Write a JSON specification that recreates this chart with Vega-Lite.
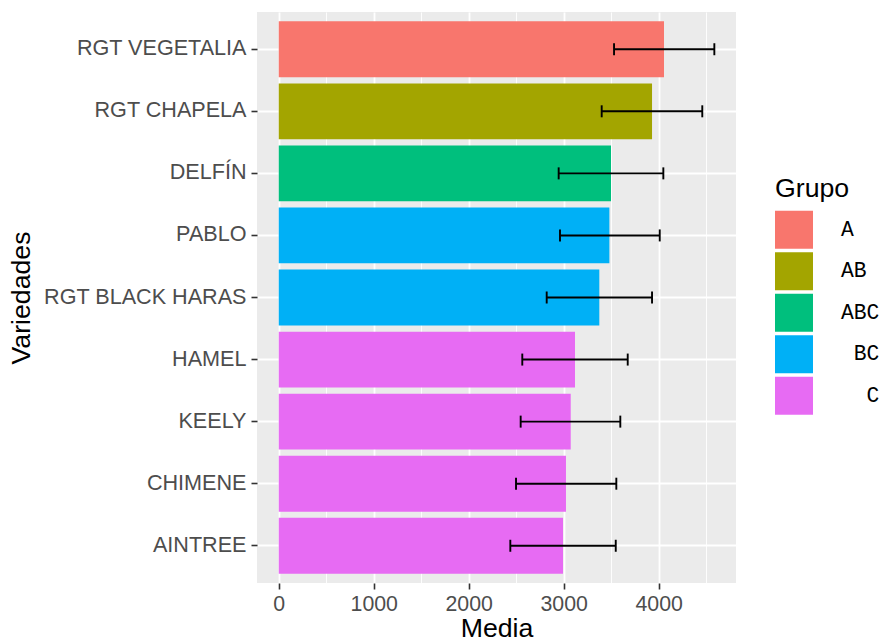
{
  "$schema": "https://vega.github.io/schema/vega-lite/v6.json",
  "autosize": {"type": "none"},
  "padding": {"left": 257, "top": 12, "right": 147, "bottom": 61},
  "width": 479,
  "height": 571,
  "background": "white",
  "config": {
    "view": {"fill": "#EBEBEB", "stroke": null},
    "font": "Liberation Sans"
  },
  "data": {
    "values": [
      {"Variedad": "RGT VEGETALIA", "Grupo": "A", "Media": 4056, "Inf": 3530, "Sup": 4586},
      {"Variedad": "RGT CHAPELA", "Grupo": "AB", "Media": 3930, "Inf": 3400, "Sup": 4459},
      {"Variedad": "DELFÍN", "Grupo": "ABC", "Media": 3498, "Inf": 2947, "Sup": 4049},
      {"Variedad": "PABLO", "Grupo": "BC", "Media": 3481, "Inf": 2961, "Sup": 4011},
      {"Variedad": "RGT BLACK HARAS", "Grupo": "BC", "Media": 3375, "Inf": 2821, "Sup": 3930},
      {"Variedad": "HAMEL", "Grupo": "C", "Media": 3119, "Inf": 2564, "Sup": 3674},
      {"Variedad": "KEELY", "Grupo": "C", "Media": 3074, "Inf": 2547, "Sup": 3596},
      {"Variedad": "CHIMENE", "Grupo": "C", "Media": 3024, "Inf": 2498, "Sup": 3554},
      {"Variedad": "AINTREE", "Grupo": "C", "Media": 2993, "Inf": 2438, "Sup": 3548}
    ]
  },
  "encoding": {
    "y": {
      "field": "Variedad",
      "type": "nominal",
      "sort": null,
      "scale": {"paddingInner": 0.1, "paddingOuter": 0.15},
      "axis": {
        "title": "Variedades",
        "titleFontSize": 26.7,
        "titleFontWeight": "normal",
        "titleColor": "black",
        "titlePadding": 22,
        "labelFontSize": 21.6,
        "labelColor": "#4D4D4D",
        "labelPadding": 5,
        "labelLimit": 400,
        "tickSize": 6,
        "tickColor": "#333333",
        "tickWidth": 1.6,
        "domain": false,
        "grid": true,
        "gridColor": "white",
        "gridWidth": 1.8,
        "bandPosition": 0.5
      }
    }
  },
  "layer": [
    {
      "mark": {"type": "bar"},
      "encoding": {
        "x": {
          "field": "Media",
          "type": "quantitative",
          "scale": {"domain": [-229, 4814], "nice": false, "zero": false},
          "axis": {
            "title": "Media",
            "titleFontSize": 26.7,
            "titleFontWeight": "normal",
            "titleColor": "black",
            "titlePadding": 1,
            "values": [0, 500, 1000, 1500, 2000, 2500, 3000, 3500, 4000, 4500],
            "format": "d",
            "labelExpr": "datum.value % 1000 === 0 ? datum.label : ''",
            "labelFontSize": 21.3,
            "labelColor": "#4D4D4D",
            "labelPadding": 4,
            "labelFlush": false,
            "labelOverlap": false,
            "tickSize": 6,
            "tickColor": "#333333",
            "tickWidth": 1.6,
            "tickOpacity": {"condition": {"test": "datum.value % 1000 === 0", "value": 1}, "value": 0},
            "domain": false,
            "grid": true,
            "gridColor": "white",
            "gridWidth": {"condition": {"test": "datum.value % 1000 === 0", "value": 1.8}, "value": 0.9}
          }
        },
        "color": {
          "field": "Grupo",
          "type": "nominal",
          "scale": {
            "domain": ["A", "AB", "ABC", "BC", "C"],
            "range": ["#F8766D", "#A3A500", "#00BF7D", "#00B0F6", "#E76BF3"]
          },
          "legend": {
            "title": "Grupo",
            "orient": "none",
            "legendX": 518,
            "legendY": 164,
            "titleFontSize": 26.7,
            "titleFontWeight": "normal",
            "titleColor": "black",
            "titlePadding": 8,
            "symbolType": "square",
            "symbolSize": 1444,
            "symbolStrokeWidth": 0,
            "symbolOpacity": 1,
            "labelFont": "Liberation Mono",
            "labelFontSize": 21.3,
            "labelColor": "black",
            "labelOffset": 28,
            "rowPadding": 3.5,
            "encode": {
              "labels": {
                "update": {
                  "dx": {"signal": "datum.value === 'BC' ? 12.8 : datum.value === 'C' ? 25.6 : 0"}
                }
              }
            }
          }
        }
      }
    },
    {
      "mark": {"type": "rule", "color": "black", "strokeWidth": 1.9},
      "encoding": {
        "x": {"field": "Inf", "type": "quantitative"},
        "x2": {"field": "Sup"}
      }
    },
    {
      "mark": {"type": "tick", "color": "black", "orient": "vertical", "size": 12, "thickness": 1.9, "opacity": 1},
      "encoding": {
        "x": {"field": "Inf", "type": "quantitative"}
      }
    },
    {
      "mark": {"type": "tick", "color": "black", "orient": "vertical", "size": 12, "thickness": 1.9, "opacity": 1},
      "encoding": {
        "x": {"field": "Sup", "type": "quantitative"}
      }
    }
  ]
}
